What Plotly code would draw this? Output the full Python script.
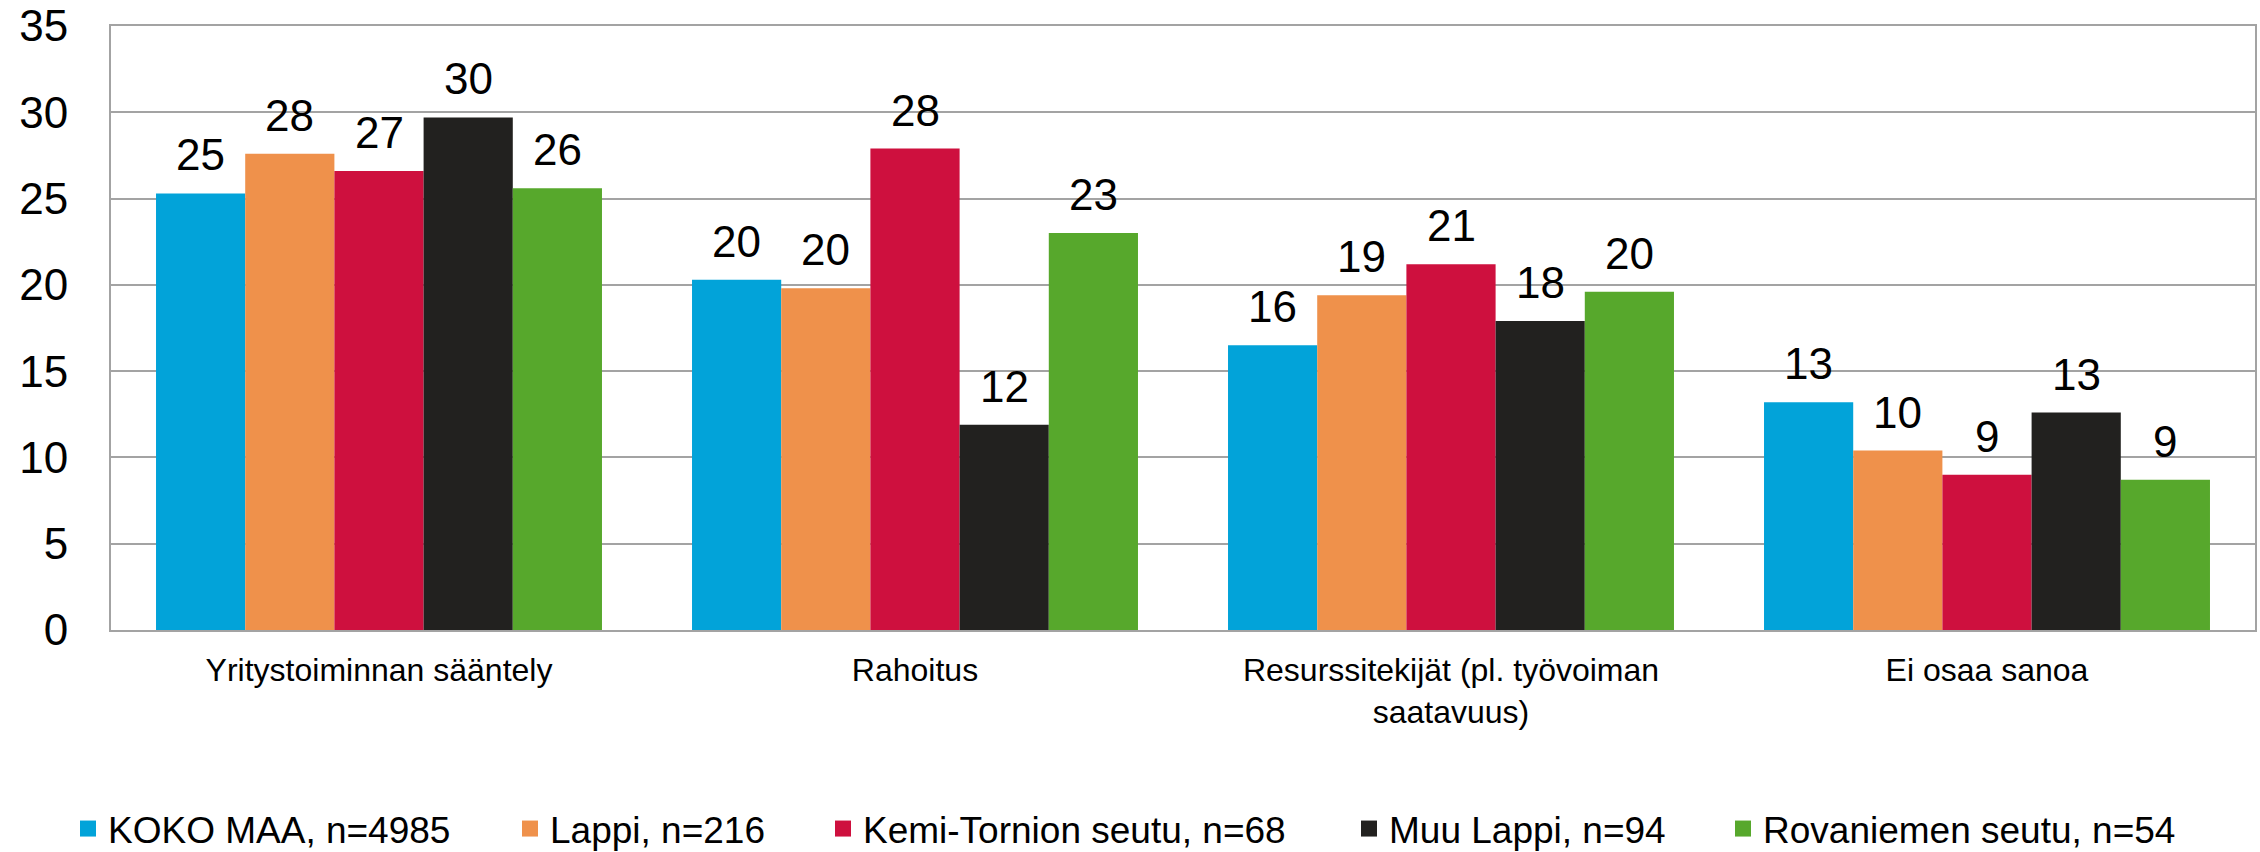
import plotly.graph_objects as go

# ---------------- data ----------------
categories = [
    "Yritystoiminnan sääntely",
    "Rahoitus",
    "Resurssitekijät (pl. työvoiman<br>saatavuus)",
    "Ei osaa sanoa",
]
series_names = [
    "KOKO MAA, n=4985",
    "Lappi, n=216",
    "Kemi-Tornion seutu, n=68",
    "Muu Lappi, n=94",
    "Rovaniemen seutu, n=54",
]
koko_maa = [25.3, 20.3, 16.5, 13.2]
lappi = [27.6, 19.8, 19.4, 10.4]
kemi_tornio = [26.6, 27.9, 21.2, 9.0]
muu_lappi = [29.7, 11.9, 17.9, 12.6]
rovaniemi = [25.6, 23.0, 19.6, 8.7]
y_tick_values = [0, 5, 10, 15, 20, 25, 30, 35]

series_values = [koko_maa, lappi, kemi_tornio, muu_lappi, rovaniemi]
colors = ["#02A3D9", "#EF914B", "#CE103E", "#22211F", "#57A82C"]

# ---------------- layout constants ----------------
W, H = 2260, 852
ML, MR, MT, MB = 111, 5, 26, 222
BARGAP = 0.168
FONT = "Arial, Liberation Sans, sans-serif"
GRID = "#A3A3A3"

plot_w = W - ML - MR
plot_h = H - MT - MB
cat_px = plot_w / len(categories)
bar_px = cat_px * (1 - BARGAP) / len(series_names)

fig = go.Figure()

for i, (name, vals, col) in enumerate(zip(series_names, series_values, colors)):
    fig.add_trace(go.Bar(
        x=categories, y=vals, name=name,
        marker=dict(color=col, line=dict(width=0)),
        showlegend=False,
        hoverinfo="skip",
    ))

# value labels
annotations = []
n = len(series_names)
for i, vals in enumerate(series_values):
    for j, v in enumerate(vals):
        annotations.append(dict(
            x=categories[j], y=v, xref="x", yref="y",
            text=f"{v:.0f}", showarrow=False,
            xanchor="center", yanchor="bottom",
            xshift=(i - (n - 1) / 2) * bar_px, yshift=12,
            font=dict(family=FONT, size=44, color="black"),
        ))

# legend entries (one legend per item so positions match the reference)
legend_centers_px = [88, 530, 843, 1369, 1743]
legend_y = (MT + plot_h - 829) / plot_h
for k, (name, col) in enumerate(zip(series_names, colors)):
    lg = "legend" if k == 0 else f"legend{k + 1}"
    fig.add_trace(go.Scatter(
        x=[None], y=[None], mode="markers", name=name,
        marker=dict(symbol="square", size=16, color=col),
        legend=lg, showlegend=True,
    ))
    fig.update_layout({lg: dict(
        x=(legend_centers_px[k] - 20 - ML) / plot_w, y=legend_y,
        xanchor="left", yanchor="middle",
        orientation="h", bgcolor="rgba(0,0,0,0)", borderwidth=0,
        font=dict(family=FONT, size=37, color="black"),
        itemwidth=30,
    )})

fig.update_layout(
    width=W, height=H,
    margin=dict(l=ML, r=MR, t=MT, b=MB, pad=0, autoexpand=False),
    paper_bgcolor="white", plot_bgcolor="white",
    barmode="group", bargap=BARGAP, bargroupgap=0,
    font=dict(family=FONT, color="black"),
    annotations=annotations,
    xaxis=dict(
        type="category",
        showline=True, linecolor=GRID, linewidth=2, mirror=True,
        showgrid=False, ticks="", ticklabelstandoff=11,
        tickfont=dict(family=FONT, size=32, color="black"),
        fixedrange=True, automargin=False,
    ),
    yaxis=dict(
        range=[0, 35], tickvals=y_tick_values,
        ticktext=[str(t) for t in y_tick_values],
        showline=True, linecolor=GRID, linewidth=2, mirror=True,
        showgrid=True, gridcolor=GRID, gridwidth=2,
        zeroline=False, ticks="", ticklabelstandoff=32,
        tickfont=dict(family=FONT, size=44, color="black"),
        fixedrange=True, automargin=False,
    ),
)

fig.write_html(
    "out.html",
    config={"displayModeBar": False},
    post_script="document.body.style.margin='0px';document.body.style.overflow='hidden';",
)
